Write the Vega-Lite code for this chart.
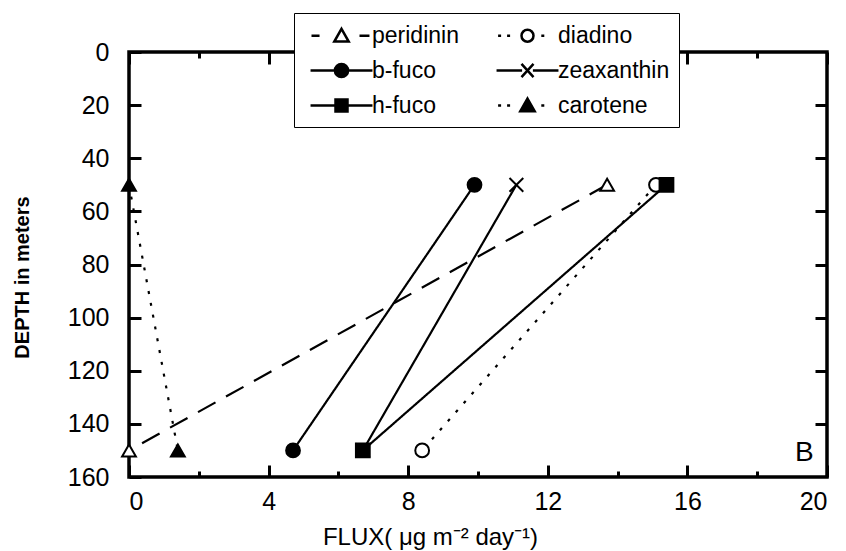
{
  "$schema": "https://vega.github.io/schema/vega-lite/v6.json",
  "width": 698,
  "height": 425,
  "autosize": "none",
  "padding": {"left": 129, "top": 52, "right": 19, "bottom": 74},
  "background": "white",
  "datasets": {
    "flux": [
      {"pigment": "peridinin", "flux": 13.7, "depth": 50},
      {"pigment": "peridinin", "flux": 0, "depth": 150},
      {"pigment": "diadino", "flux": 15.1, "depth": 50},
      {"pigment": "diadino", "flux": 8.4, "depth": 150},
      {"pigment": "b-fuco", "flux": 9.9, "depth": 50},
      {"pigment": "b-fuco", "flux": 4.7, "depth": 150},
      {"pigment": "zeaxanthin", "flux": 11.1, "depth": 50},
      {"pigment": "zeaxanthin", "flux": 6.7, "depth": 150},
      {"pigment": "h-fuco", "flux": 15.4, "depth": 50},
      {"pigment": "h-fuco", "flux": 6.7, "depth": 150},
      {"pigment": "carotene", "flux": 0, "depth": 50},
      {"pigment": "carotene", "flux": 1.4, "depth": 150}
    ]
  },
  "config": {
    "view": {"stroke": "black", "strokeWidth": 3.5},
    "font": "Liberation Sans",
    "axis": {
      "domain": false,
      "grid": false,
      "tickColor": "black",
      "tickWidth": 3,
      "labelColor": "black",
      "labelFont": "Liberation Sans",
      "labelFontSize": 25,
      "titleColor": "black",
      "titleFont": "Liberation Sans"
    }
  },
  "resolve": {
    "scale": {"shape": "independent", "fill": "independent", "stroke": "independent"},
    "axis": {"x": "independent", "y": "independent"}
  },
  "layer": [
    {
      "data": {"name": "flux"},
      "mark": {"type": "line", "stroke": "black", "strokeWidth": 2.2},
      "encoding": {
        "x": {
          "field": "flux", "type": "quantitative",
          "scale": {"domain": [0, 20], "nice": false, "zero": false},
          "axis": {
            "orient": "bottom", "values": [0, 4, 8, 12, 16, 20], "tickSize": -12, "labelPadding": 24, "labelAngle": 0,
            "title": "FLUX( μg m⁻² day⁻¹)", "titleFontSize": 24, "titleFontWeight": "normal",
            "titleX": 301, "titleY": 60, "titleBaseline": "middle"
          }
        },
        "y": {
          "field": "depth", "type": "quantitative",
          "scale": {"domain": [0, 160], "reverse": true, "nice": false, "zero": false},
          "axis": {
            "orient": "left", "values": [0, 20, 40, 60, 80, 100, 120, 140, 160], "tickSize": -12, "labelPadding": 32,
            "title": "DEPTH in meters", "titleFontSize": 20, "titleFontWeight": "bold",
            "titleX": -107, "titleY": 225, "titleBaseline": "middle", "titleAlign": "center", "titleAngle": -90
          }
        },
        "detail": {"field": "pigment", "type": "nominal"},
        "strokeDash": {
          "field": "pigment", "type": "nominal",
          "scale": {
            "domain": ["peridinin", "diadino", "b-fuco", "zeaxanthin", "h-fuco", "carotene"],
            "range": [[20, 12], [3, 9], [1, 0], [1, 0], [1, 0], [3, 9]]
          },
          "legend": null
        },
        "order": {"field": "depth", "type": "quantitative"}
      }
    },
    {
      "data": {"name": "flux"},
      "mark": {"type": "point", "filled": false, "stroke": "black", "strokeWidth": 2, "opacity": 1, "size": 190},
      "encoding": {
        "x": {
          "field": "flux", "type": "quantitative",
          "scale": {"domain": [0, 20], "nice": false, "zero": false},
          "axis": {"orient": "top", "values": [0, 4, 8, 12, 16, 20], "tickSize": -12, "labels": false, "title": null}
        },
        "y": {
          "field": "depth", "type": "quantitative",
          "scale": {"domain": [0, 160], "reverse": true, "nice": false, "zero": false},
          "axis": {"orient": "right", "values": [20, 40, 60, 80, 100, 120, 140], "tickSize": -12, "labels": false, "title": null}
        },
        "shape": {
          "field": "pigment", "type": "nominal",
          "scale": {
            "domain": ["peridinin", "diadino", "b-fuco", "zeaxanthin", "h-fuco", "carotene"],
            "range": ["triangle-up", "circle", "circle", "M-1,-1L1,1M-1,1L1,-1", "square", "triangle-up"]
          },
          "legend": null
        },
        "fill": {
          "field": "pigment", "type": "nominal",
          "scale": {
            "domain": ["peridinin", "diadino", "b-fuco", "zeaxanthin", "h-fuco", "carotene"],
            "range": ["white", "white", "black", "black", "black", "black"]
          },
          "legend": null
        }
      }
    },
    {
      "data": {"name": "flux"},
      "transform": [{"filter": "datum.depth < 0"}],
      "mark": {"type": "point", "filled": false, "strokeWidth": 2.5, "opacity": 1, "size": 150},
      "encoding": {
        "x": {
          "field": "flux", "type": "quantitative",
          "scale": {"domain": [0, 20], "nice": false, "zero": false},
          "axis": {"orient": "bottom", "values": [2, 6, 10, 14, 18], "tickSize": -6, "labels": false, "title": null}
        },
        "y": {
          "field": "depth", "type": "quantitative",
          "scale": {"domain": [0, 160], "reverse": true, "nice": false, "zero": false},
          "axis": null
        },
        "shape": {
          "field": "pigment", "type": "nominal",
          "scale": {
            "domain": ["peridinin", "b-fuco", "h-fuco", "diadino", "zeaxanthin", "carotene"],
            "range": [
              "M-2.5,0H-1.83M1.5,0H2.33M0,-0.58L0.6,0.48L-0.6,0.48Z",
              "M-2.58,0H2.58M0.55,0A0.55,0.55,0,1,1,-0.55,0A0.55,0.55,0,1,1,0.55,0Z",
              "M-2.58,0H2.58M-0.5,-0.5H0.5V0.5H-0.5Z",
              "M-2.45,0H-2.2M-1.7,0H-1.45M1.15,0H1.4M0.5,0A0.5,0.5,0,1,1,-0.5,0A0.5,0.5,0,1,1,0.5,0Z",
              "M-2.58,0H-0.45M0.45,0H2.58M-0.5,-0.55L0.5,0.55M-0.5,0.55L0.5,-0.55",
              "M-2.45,0H-2.2M-1.7,0H-1.45M1.15,0H1.4M0,-0.58L0.6,0.48L-0.6,0.48Z"
            ]
          },
          "legend": {
            "title": null,
            "orient": "none",
            "legendX": 165,
            "legendY": -39,
            "columns": 2,
            "columnPadding": 30,
            "rowPadding": 9,
            "padding": 9,
            "strokeColor": "black",
            "fillColor": "white",
            "symbolSize": 576,
            "symbolOffset": 25,
            "symbolStrokeWidth": 2.5,
            "labelFont": "Liberation Sans",
            "labelFontSize": 23,
            "labelColor": "black",
            "labelOffset": 17,
            "labelLimit": 0,
            "encode": {
              "symbols": {"update": {"strokeWidth": {"value": 2.8}, "opacity": {"value": 1}}},
              "legend": {"update": {"strokeWidth": {"value": 3.5}}}
            }
          }
        },
        "fill": {
          "field": "pigment", "type": "nominal",
          "scale": {
            "domain": ["peridinin", "b-fuco", "h-fuco", "diadino", "zeaxanthin", "carotene"],
            "range": ["white", "black", "black", "white", "black", "black"]
          }
        },
        "stroke": {
          "field": "pigment", "type": "nominal",
          "scale": {
            "domain": ["peridinin", "b-fuco", "h-fuco", "diadino", "zeaxanthin", "carotene"],
            "range": ["black", "black", "black", "black", "black", "black"]
          }
        }
      }
    },
    {
      "data": {"values": [{"flux": 19.35, "depth": 151, "label": "B"}]},
      "mark": {"type": "text", "fontSize": 28, "font": "Liberation Sans", "align": "center", "baseline": "middle", "color": "black"},
      "encoding": {
        "x": {
          "field": "flux", "type": "quantitative",
          "scale": {"domain": [0, 20], "nice": false, "zero": false},
          "axis": {"orient": "top", "values": [2, 6, 10, 14, 18], "tickSize": -6, "labels": false, "title": null}
        },
        "y": {
          "field": "depth", "type": "quantitative",
          "scale": {"domain": [0, 160], "reverse": true, "nice": false, "zero": false},
          "axis": null
        },
        "text": {"field": "label"}
      }
    }
  ]
}
